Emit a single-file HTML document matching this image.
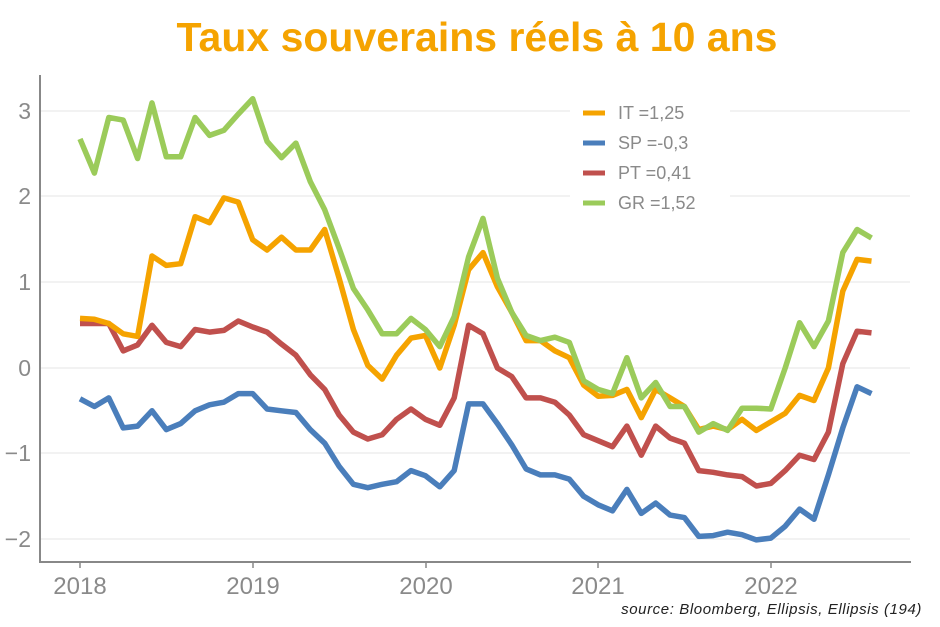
<!DOCTYPE html>
<html><head><meta charset="utf-8"><style>
body{margin:0;background:#fff;}
svg text{font-family:"Liberation Sans",sans-serif;}
</style></head><body>
<svg id="s" width="940" height="622" xmlns="http://www.w3.org/2000/svg">
<rect width="940" height="622" fill="#fff"/>
<text x="477" y="51" text-anchor="middle" font-size="41" font-weight="bold" fill="#f5a300">Taux souverains réels à 10 ans</text>
<g stroke="#e6e6e6" stroke-width="1">
<line x1="41" x2="910" y1="111" y2="111"/><line x1="41" x2="910" y1="196" y2="196"/>
<line x1="41" x2="910" y1="282" y2="282"/><line x1="41" x2="910" y1="368" y2="368"/>
<line x1="41" x2="910" y1="453" y2="453"/><line x1="41" x2="910" y1="539" y2="539"/>
</g>
<g stroke="#888" stroke-width="2">
<line x1="40" x2="40" y1="75" y2="563"/><line x1="39" x2="911" y1="562" y2="562"/>
</g>
<g font-size="23" fill="#8a8a8a" text-anchor="end">
<text x="31" y="119">3</text><text x="31" y="204">2</text><text x="31" y="290">1</text>
<text x="31" y="376">0</text><text x="31" y="461">−1</text><text x="31" y="547">−2</text>
</g>
<g font-size="24" fill="#8a8a8a" text-anchor="middle">
<text x="80" y="594">2018</text><text x="253" y="594">2019</text><text x="426" y="594">2020</text>
<text x="598" y="594">2021</text><text x="771" y="594">2022</text>
</g>
<g stroke="#888" stroke-width="1.5">
<line x1="80" x2="80" y1="562" y2="568"/><line x1="253" x2="253" y1="562" y2="568"/><line x1="426" x2="426" y1="562" y2="568"/><line x1="598" x2="598" y1="562" y2="568"/><line x1="771" x2="771" y1="562" y2="568"/>
</g>
<g id="lines"></g>
<rect x="570" y="96" width="160" height="118" fill="#fff"/>
<g font-size="18" fill="#8a8a8a">
<line x1="583" x2="605" y1="113" y2="113" stroke="#f5a300" stroke-width="5"/><text x="618" y="119">IT =1,25</text>
<line x1="583" x2="605" y1="143" y2="143" stroke="#4a7ebb" stroke-width="5"/><text x="618" y="149">SP =-0,3</text>
<line x1="583" x2="605" y1="173" y2="173" stroke="#c0504d" stroke-width="5"/><text x="618" y="179">PT =0,41</text>
<line x1="583" x2="605" y1="203" y2="203" stroke="#9bcb5a" stroke-width="5"/><text x="618" y="209">GR =1,52</text>
</g>
<text x="922" y="614" text-anchor="end" font-size="15" font-style="italic" letter-spacing="0.6" fill="#222">source: Bloomberg, Ellipsis, Ellipsis (194)</text>
</svg>
<script>
var D={
SP:[-0.36,-0.45,-0.35,-0.7,-0.68,-0.5,-0.72,-0.65,-0.5,-0.43,-0.4,-0.3,-0.3,-0.48,-0.5,-0.52,-0.72,-0.88,-1.15,-1.36,-1.4,-1.36,-1.33,-1.2,-1.26,-1.39,-1.2,-0.42,-0.42,-0.65,-0.9,-1.18,-1.25,-1.25,-1.3,-1.5,-1.6,-1.67,-1.42,-1.7,-1.58,-1.72,-1.75,-1.97,-1.96,-1.92,-1.95,-2.01,-1.99,-1.85,-1.65,-1.77,-1.25,-0.7,-0.22,-0.3],
PT:[0.52,0.52,0.52,0.2,0.27,0.5,0.3,0.25,0.45,0.42,0.44,0.55,0.48,0.42,0.28,0.15,-0.08,-0.25,-0.55,-0.75,-0.83,-0.78,-0.6,-0.48,-0.6,-0.67,-0.35,0.5,0.4,0,-0.1,-0.35,-0.35,-0.4,-0.55,-0.78,-0.85,-0.92,-0.68,-1.02,-0.68,-0.82,-0.88,-1.2,-1.22,-1.25,-1.27,-1.38,-1.35,-1.2,-1.02,-1.07,-0.75,0.05,0.43,0.41],
IT:[0.58,0.57,0.52,0.4,0.37,1.31,1.2,1.22,1.77,1.7,1.99,1.94,1.5,1.38,1.53,1.38,1.38,1.62,1.05,0.45,0.03,-0.13,0.15,0.35,0.38,0.0,0.5,1.15,1.35,0.95,0.65,0.32,0.32,0.2,0.12,-0.2,-0.33,-0.32,-0.25,-0.58,-0.25,-0.35,-0.45,-0.72,-0.68,-0.72,-0.6,-0.73,-0.63,-0.53,-0.32,-0.38,0,0.9,1.27,1.25],
GR:[2.68,2.28,2.93,2.9,2.45,3.1,2.47,2.47,2.93,2.72,2.78,2.97,3.15,2.65,2.46,2.63,2.18,1.85,1.4,0.93,0.68,0.4,0.4,0.58,0.45,0.25,0.6,1.3,1.75,1.05,0.65,0.38,0.32,0.36,0.3,-0.15,-0.25,-0.3,0.12,-0.35,-0.17,-0.45,-0.45,-0.75,-0.65,-0.73,-0.47,-0.47,-0.48,0,0.53,0.25,0.55,1.35,1.62,1.52]};
var C={SP:"#4a7ebb",PT:"#c0504d",IT:"#f5a300",GR:"#9bcb5a"};
var g=document.getElementById("lines"),h="";
["SP","PT","IT","GR"].forEach(function(k){
 var p=D[k].map(function(v,i){return (80+i*172.7/12).toFixed(1)+","+(368-v*85.5).toFixed(1)}).join(" ");
 h+='<polyline points="'+p+'" fill="none" stroke="'+C[k]+'" stroke-width="5.5" stroke-linejoin="round"/>';
});
g.innerHTML=h;
</script>
</body></html>
